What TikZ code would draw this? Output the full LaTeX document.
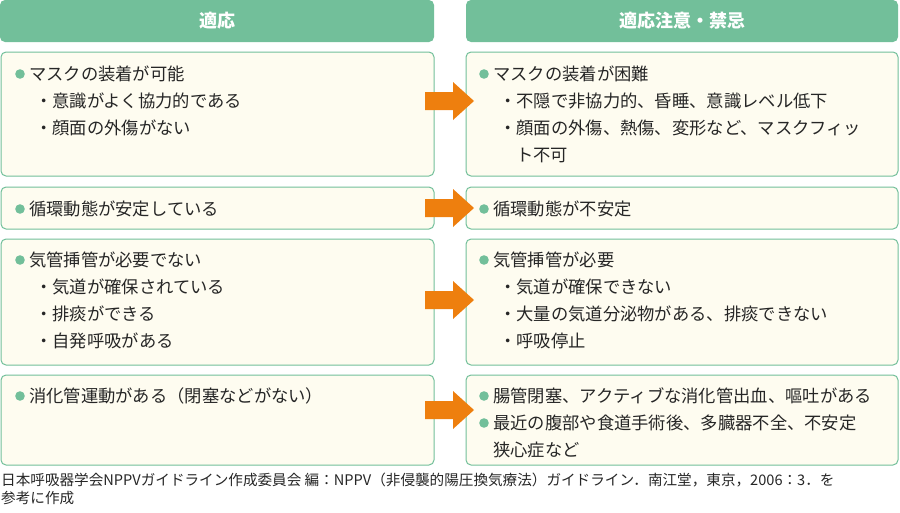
\documentclass[tikz,border=0pt]{standalone}
\usepackage{fontspec}
\setmainfont{Noto Sans CJK JP}
\begin{document}
\begin{tikzpicture}[x=1pt,y=-1pt,
 hdr/.style={fill=hg,draw=none,rounded corners=5pt},
 box/.style={fill=cream,draw=hg,line width=1pt,rounded corners=5pt},
 t/.style={anchor=west,inner sep=0pt,font=\fontsize{17.3}{20}\selectfont,text=black!85},
 arr/.style={fill=orgc,draw=none}]
\definecolor{hg}{HTML}{72BF9A}\definecolor{cream}{HTML}{FEFCF0}\definecolor{orgc}{HTML}{EE7F0E}
\useasboundingbox (0,0) rectangle (900,512);
\draw[hdr] (0,0) rectangle (434,42) node[midway,text=white,font=\fontsize{18}{20}\selectfont\bfseries] (h1) {適応};
\draw[hdr] (466,0) rectangle (898,42) node[midway,text=white,font=\fontsize{18}{20}\selectfont\bfseries] (h2) {適応注意・禁忌};
\foreach \a/\b in {52/176,187/229,239/365,375/465}{
 \draw[box] (1,\a) rectangle (434,\b);
 \draw[box] (466,\a) rectangle (898,\b);}
\foreach \y in {101,208,300,410}{
 \fill[arr] (425,\y-9) -- (453,\y-9) -- (453,\y-19) -- (474,\y) -- (453,\y+19) -- (453,\y+9) -- (425,\y+9) -- cycle;}
\newcommand\mybl[3]{\fill[hg] (#1+8,#2) circle (4.8); \node[t] at (#1+17,#2) {#3};}
\newcommand\mysb[3]{\node[t] at (#1+23,#2) {・#3};}
% left
\mybl{12}{74}{マスクの装着が可能}
\mysb{12}{101}{意識がよく協力的である}
\mysb{12}{128}{顔面の外傷がない}
\mybl{12}{209}{循環動態が安定している}
\mybl{12}{260}{気管挿管が必要でない}
\mysb{12}{287}{気道が確保されている}
\mysb{12}{314}{排痰ができる}
\mysb{12}{341}{自発呼吸がある}
\mybl{12}{396}{消化管運動がある（閉塞などがない）}
% right
\mybl{476}{74}{マスクの装着が困難}
\mysb{476}{101}{不隠で非協力的、昏睡、意識レベル低下}
\mysb{476}{128}{顔面の外傷、熱傷、変形など、マスクフィッ}
\node[t] at (516,155) {ト不可};
\mybl{476}{209}{循環動態が不安定}
\mybl{476}{260}{気管挿管が必要}
\mysb{476}{287}{気道が確保できない}
\mysb{476}{314}{大量の気道分泌物がある、排痰できない}
\mysb{476}{341}{呼吸停止}
\mybl{476}{396}{腸管閉塞、アクティブな消化管出血、嘔吐がある}
\mybl{476}{423}{最近の腹部や食道手術後、多臓器不全、不安定}
\node[t] at (493,450) {狭心症など};
\node[t,font=\fontsize{14.6}{18}\selectfont,anchor=north west,align=left] (src) at (1,473) {日本呼吸器学会NPPVガイドライン作成委員会 編：NPPV（非侵襲的陽圧換気療法）ガイドライン．南江堂，東京，2006：3．を\\参考に作成};
\end{tikzpicture}
\end{document}
